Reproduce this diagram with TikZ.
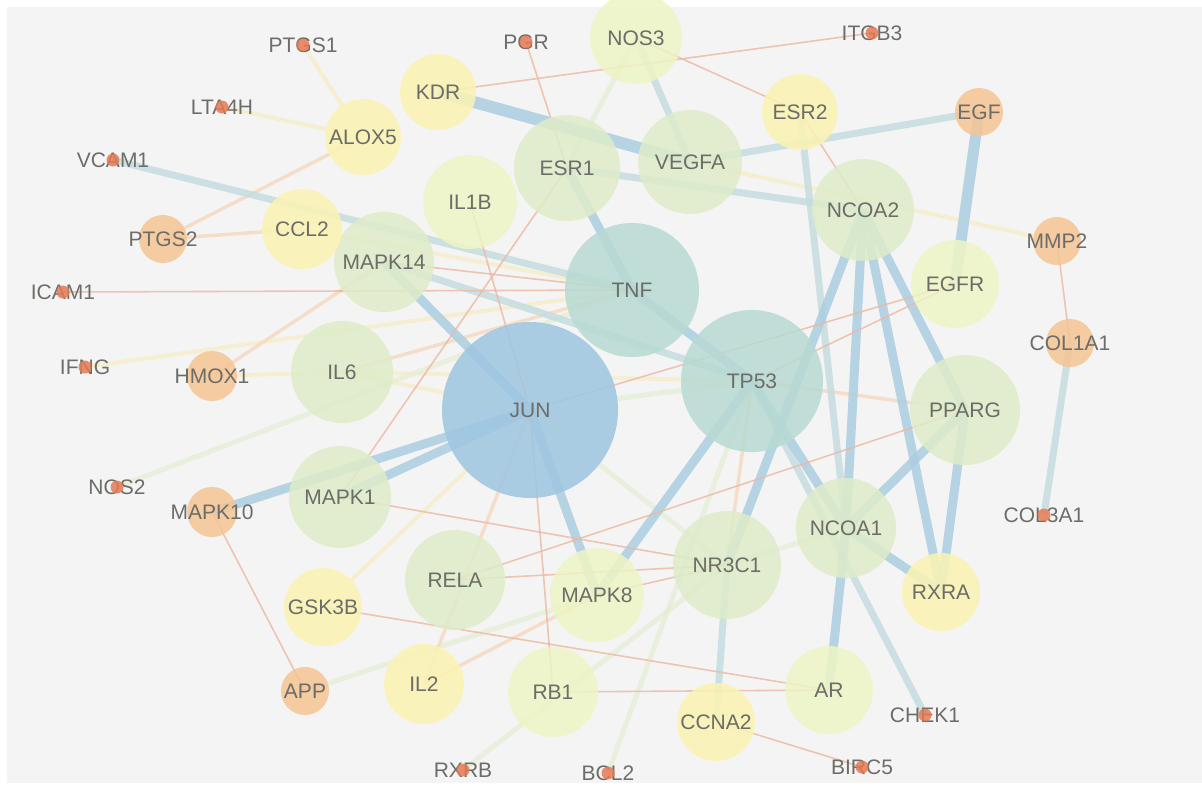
\documentclass[tikz,border=0pt]{standalone}
\usepackage{fontspec}
\setmainfont{Liberation Sans}
\usetikzlibrary{backgrounds}

\definecolor{bggray}{RGB}{244,244,244}
\definecolor{labgray}{RGB}{108,108,104}
\definecolor{cjun}{RGB}{158,198,225}
\definecolor{cteal}{RGB}{184,218,210}
\definecolor{cgreen}{RGB}{222,236,200}
\definecolor{clime}{RGB}{238,244,196}
\definecolor{cyellow}{RGB}{251,243,178}
\definecolor{corange}{RGB}{246,196,148}
\definecolor{cdot}{RGB}{229,122,84}
\definecolor{eblue}{RGB}{172,206,225}
\definecolor{esoft}{RGB}{194,220,224}
\definecolor{ethin}{RGB}{236,184,162}
\definecolor{epale}{RGB}{248,236,194}
\definecolor{epaleg}{RGB}{226,237,206}
\definecolor{epaleo}{RGB}{246,214,184}

\tikzset{
  gene/.style={circle, inner sep=0pt, minimum size=2*#1, fill opacity=0.85},
  every label/.style={text=labgray, font=\fontsize{21}{21}\selectfont, inner sep=0pt},
  genetext/.style={text=labgray, font=\fontsize{21}{21}\selectfont, inner sep=0pt},
  strong/.style={line width=9pt, draw=eblue, draw opacity=0.85},
  soft/.style={line width=7pt, draw=esoft, draw opacity=0.8},
  thin/.style={line width=1.6pt, draw=ethin, draw opacity=0.8},
  pale/.style={line width=4pt, draw=epale, draw opacity=0.7},
  paleg/.style={line width=5pt, draw=epaleg, draw opacity=0.6},
  paleo/.style={line width=3.5pt, draw=epaleo, draw opacity=0.7}
}

\begin{document}
\begin{tikzpicture}[x=1pt, y=-1pt]
\useasboundingbox (0,0) rectangle (1202,785);

% circles, name/x/y/radius/colour
\foreach \n/\x/\y/\r/\c in {
  JUN/530/410/88/cjun,
  TNF/632/290/67/cteal, TP53/752/381/71/cteal,
  ESR1/567/168/53/cgreen, VEGFA/690/162/52/cgreen, NCOA2/863/210/51/cgreen,
  PPARG/965/410/55/cgreen, NCOA1/846/528/50/cgreen, NR3C1/727/565/54/cgreen,
  RELA/455/580/50/cgreen, MAPK1/340/497/51/cgreen, IL6/342/372/51/cgreen,
  MAPK14/384/262/50/cgreen,
  IL1B/470/202/47/clime, MAPK8/597/595/47/clime, EGFR/955/284/44/clime,
  AR/829/690/44/clime, RB1/553/692/45/clime, NOS3/636/38/46/clime,
  KDR/438/92/38/cyellow, ALOX5/363/137/38/cyellow, ESR2/800/112/38/cyellow,
  CCL2/302/229/40/cyellow, GSK3B/323/607/39/cyellow, IL2/424/684/40/cyellow,
  RXRA/941/592/39/cyellow, CCNA2/716/722/39/cyellow,
  EGF/979/112/24/corange, MMP2/1057/241/24/corange, COL1A1/1070/343/24/corange,
  PTGS2/163/239/24/corange, HMOX1/212/376/25/corange, MAPK10/212/512/25/corange,
  APP/305/691/24/corange}
  \node[gene=\r, fill=\c, label=center:\n] (\n) at (\x,\y) {};

% small genes: label with a dot on it
\foreach \n/\x/\y in {PTGS1/303/45, LTA4H/222/107, VCAM1/113/160, ICAM1/63/292,
  IFNG/85/367, NOS2/117/487, PGR/526/42, ITGB3/872/33, COL3A1/1044/515,
  CHEK1/925/715, BIRC5/862/767, RXRB/463/770, BCL2/608/773}
{
  \node[genetext] (\n) at (\x,\y) {\n};
  \fill[cdot, opacity=0.85] (\n.center) circle (6.5pt);
}

\begin{scope}[on background layer]
\fill[white] (0,0) rectangle (1202,785);
\fill[bggray] (7,7) rectangle (1202,783);

\foreach \a/\b in {PTGS1/ALOX5, LTA4H/ALOX5, IFNG/TNF, HMOX1/IL6, IL6/JUN,
  IL6/TP53, GSK3B/JUN, CCL2/TNF, VEGFA/MMP2}
  \draw[pale] (\a.center) -- (\b.center);
\foreach \a/\b in {NOS2/TNF, BCL2/TP53, RXRB/NR3C1, JUN/NR3C1, APP/MAPK8,
  NR3C1/NCOA1, NOS3/ESR1, JUN/TP53}
  \draw[paleg] (\a.center) -- (\b.center);
\foreach \a/\b in {ALOX5/PTGS2, CCL2/PTGS2, HMOX1/MAPK14, IL6/TNF, IL2/JUN,
  IL2/MAPK8, TP53/PPARG, TP53/NR3C1}
  \draw[paleo] (\a.center) -- (\b.center);

\foreach \a/\b in {VCAM1/TNF, VEGFA/EGF, MAPK14/TP53, ESR2/NCOA1, COL1A1/COL3A1,
  TP53/CHEK1, NR3C1/CCNA2, ESR1/NCOA2, NOS3/VEGFA}
  \draw[soft] (\a.center) -- (\b.center);

\foreach \a/\b in {NCOA2/NCOA1, NCOA2/RXRA, NCOA2/PPARG, NCOA2/NR3C1,
  TP53/NCOA1, PPARG/NCOA1, PPARG/RXRA, NCOA1/RXRA, NCOA1/AR, TP53/MAPK8,
  MAPK10/JUN, MAPK1/JUN, MAPK14/JUN, JUN/MAPK8, ESR1/TNF, TNF/TP53}
  \draw[strong] (\a.center) -- (\b.center);
\draw[strong, line width=12pt] (KDR.center) -- (VEGFA.center);
\draw[strong, line width=11pt] (EGF.center) -- (EGFR.center);

\foreach \a/\b in {ICAM1/TNF, MAPK14/TNF, IL1B/JUN, ESR1/MAPK1, PGR/ESR1,
  KDR/ITGB3, NOS3/ESR2, ESR2/NCOA2, MMP2/COL1A1, JUN/EGFR, TP53/EGFR,
  RELA/PPARG, MAPK1/NR3C1, RELA/NR3C1, MAPK8/NR3C1, GSK3B/AR, RB1/AR,
  CCNA2/BIRC5, JUN/RB1, MAPK10/APP}
  \draw[thin] (\a.center) -- (\b.center);
\end{scope}
\end{tikzpicture}
\end{document}
